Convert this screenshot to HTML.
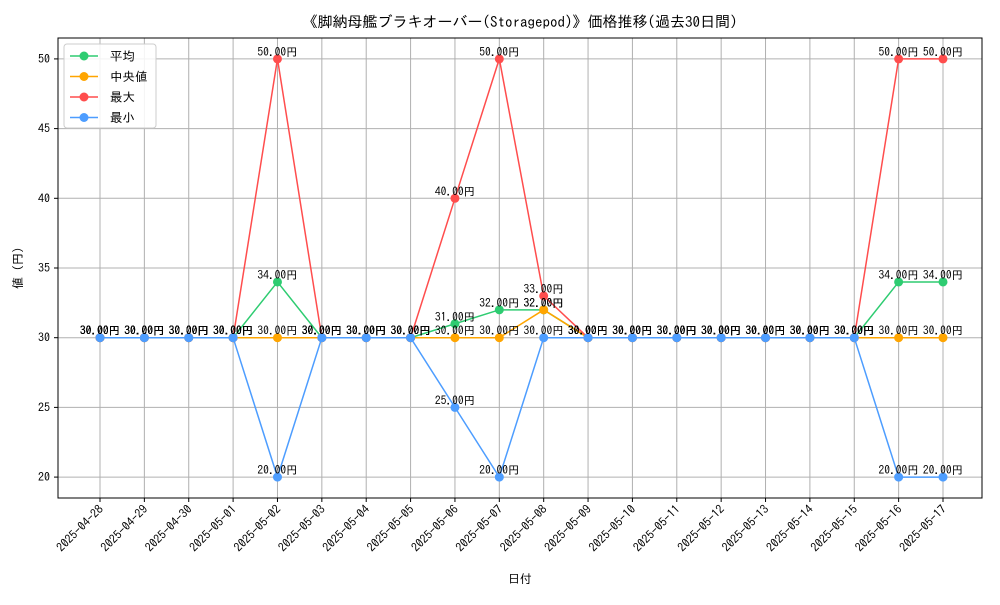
<!DOCTYPE html>
<html><head><meta charset="utf-8"><style>
body{margin:0;background:#fff}
svg text{font-family:"IPAGothic","Liberation Sans","Noto Sans CJK JP",sans-serif;fill:#000}
</style></head><body>
<svg id="c" width="1000" height="600" xmlns="http://www.w3.org/2000/svg">
<rect width="1000" height="600" fill="#fff"/>
<text x="520" y="27" font-size="15" text-anchor="middle">《脚納母艦ブラキオーバー(Storagepod)》価格推移(過去30日間)</text>
<g id="grid"></g><g id="axes"></g><g id="series"></g><g id="labels"></g>
<rect x="58" y="38" width="924" height="460" fill="none" stroke="#000" stroke-width="1"/>
<text x="520" y="583" font-size="12" text-anchor="middle">日付</text>
<text transform="translate(22,268) rotate(-90)" font-size="12" text-anchor="middle">値 (円)</text>
<g id="legend">
<rect x="64" y="44" width="92" height="84" rx="3" fill="#fff" fill-opacity="0.85" stroke="#ccc"/>
</g>
</svg>
<script>
const dates=["2025-04-28","2025-04-29","2025-04-30","2025-05-01","2025-05-02","2025-05-03","2025-05-04","2025-05-05","2025-05-06","2025-05-07","2025-05-08","2025-05-09","2025-05-10","2025-05-11","2025-05-12","2025-05-13","2025-05-14","2025-05-15","2025-05-16","2025-05-17"];
const avgVals=[30,30,30,30,34,30,30,30,31,32,32,30,30,30,30,30,30,30,34,34];
const medianVals=[30,30,30,30,30,30,30,30,30,30,32,30,30,30,30,30,30,30,30,30];
const maxVals=[30,30,30,30,50,30,30,30,40,50,33,30,30,30,30,30,30,30,50,50];
const minVals=[30,30,30,30,20,30,30,30,25,20,30,30,30,30,30,30,30,30,20,20];
const yTicks=[20,25,30,35,40,45,50];
const NS="http://www.w3.org/2000/svg";
const X0=58,X1=982,Y0=38,Y1=498;
const n=dates.length;
function xs(i){return 100+(943-100)*i/(n-1);}
const ymin=18.5,ymax=51.5;
function ys(v){return Y1-(v-ymin)/(ymax-ymin)*(Y1-Y0);}
function mk(tag,attrs,parent){const e=document.createElementNS(NS,tag);for(const k in attrs)e.setAttribute(k,attrs[k]);document.getElementById(parent).appendChild(e);return e;}
dates.forEach((d,i)=>{
  const g=mk("line",{x1:xs(i),x2:xs(i),y1:Y0,y2:Y1,stroke:"#b0b0b0","stroke-width":1},"grid");
  
  
  const t=mk("line",{x1:xs(i),x2:xs(i),y1:Y1,y2:Y1+4,stroke:"#000"},"axes");
  
  
  const tx=xs(i)+4,ty=Y1+12;
  const l=mk("text",{x:tx,y:ty,"font-size":12,"text-anchor":"end",transform:`rotate(-45 ${tx} ${ty})`},"axes");
  l.textContent=d;
  
  
});
yTicks.forEach(v=>{
  const g=mk("line",{x1:X0,x2:X1,y1:ys(v),y2:ys(v),stroke:"#b0b0b0","stroke-width":1},"grid");
  
  
  const t=mk("line",{x1:X0-4,x2:X0,y1:ys(v),y2:ys(v),stroke:"#000"},"axes");
  
  
  const l=mk("text",{x:X0-8,y:ys(v)+4,"font-size":12,"text-anchor":"end"},"axes");
  l.textContent=v;
  
  
});
const series=[["平均",avgVals,"#2ecc71","avg"],["中央値",medianVals,"#ffa500","median"],["最大",maxVals,"#ff4d4d","max"],["最小",minVals,"#4d9dff","min"]];
series.forEach(([name,vals,col,key],si)=>{
  const p=mk("polyline",{points:vals.map((v,i)=>xs(i)+","+ys(v)).join(" "),fill:"none",stroke:col,"stroke-width":1.5},"series");
  
  
  vals.forEach((v,i)=>{
    const c=mk("circle",{cx:xs(i),cy:ys(v),r:4.5,fill:col},"series");
    
    
    const t=mk("text",{x:xs(i),y:ys(v)-3,"font-size":11.5,"text-anchor":"middle"},"labels");
    t.textContent=v.toFixed(2)+"円";
    
    
  });
  const ly=56+si*20.5;
  const ll=mk("line",{x1:70,x2:98,y1:ly,y2:ly,stroke:col,"stroke-width":1.5},"legend");
  
  
  const lc=mk("circle",{cx:84,cy:ly,r:4.5,fill:col},"legend");
  
  
  const lt=mk("text",{x:110,y:ly+4.5,"font-size":12.5},"legend");
  lt.textContent=name;
  
  
});
</script>
</body></html>
